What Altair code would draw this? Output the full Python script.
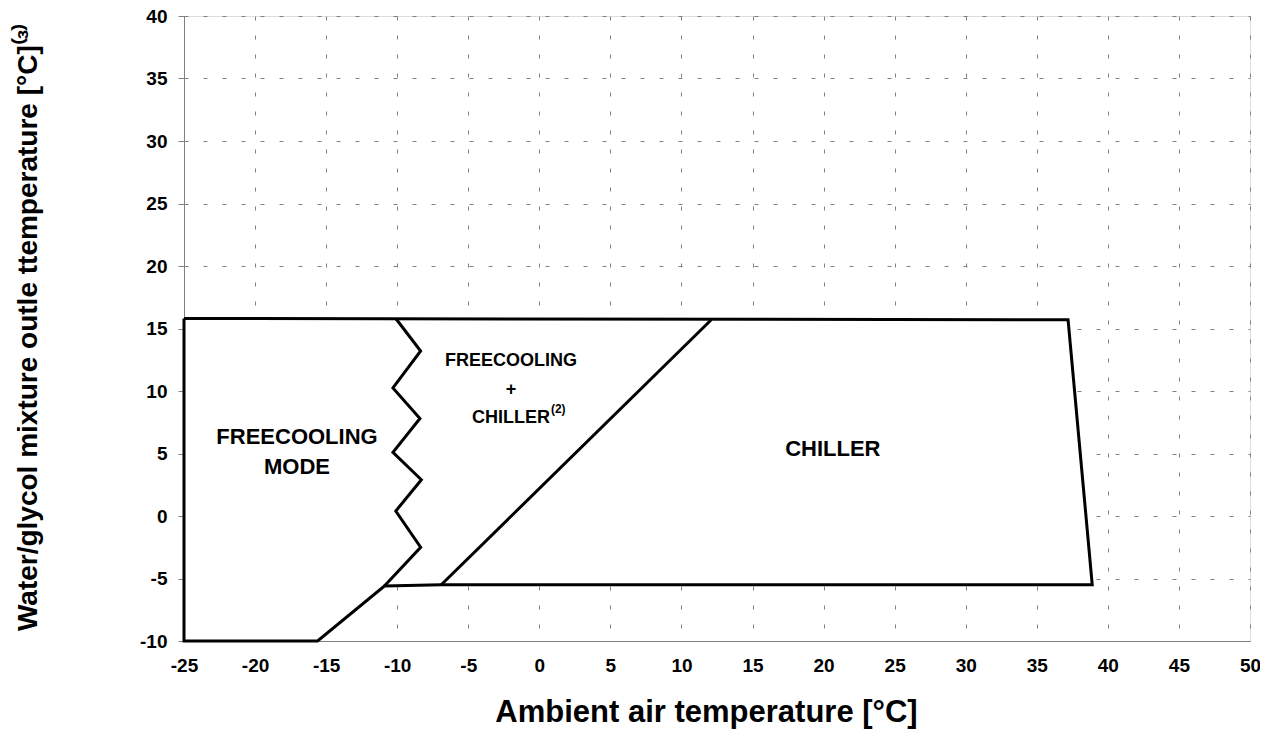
import altair as alt
import pandas as pd

# Outer envelope of the operating map
outer_x = [-25, -25, -15.6, -10.9, -6.9, 38.9, 37.2, -25]
outer_y = [15.8, -10, -10, -5.6, -5.5, -5.5, 15.7, 15.8]
# Zig-zag boundary between FREECOOLING and FREECOOLING + CHILLER
zig_x = [-10.1, -8.35, -10.3, -8.4, -10.3, -8.3, -10.1, -8.35, -10.9]
zig_y = [15.8, 13.2, 10.25, 7.8, 5.1, 2.9, 0.4, -2.5, -5.6]
# Diagonal boundary between FREECOOLING + CHILLER and CHILLER
diag_x = [-6.9, 12.1]
diag_y = [-5.5, 15.7]

label_text = ["FREECOOLING", "MODE", "FREECOOLING", "+", "CHILLER", "CHILLER"]
label_x = [-17.05, -17.05, -2.0, -2.0, -2.0, 20.65]
label_y = [6.32, 3.89, 12.41, 10.06, 7.87, 5.33]
label_size = [22, 22, 18, 18, 18, 22]

sup_text = ["(2)"]
sup_x = [-2.0]
sup_y = [7.87]

x_ticks = list(range(-25, 51, 5))
y_ticks = list(range(-10, 41, 5))

rows = []
for name, xs_, ys_ in [("outer", outer_x, outer_y), ("zig", zig_x, zig_y), ("diag", diag_x, diag_y)]:
    for i, (a, b) in enumerate(zip(xs_, ys_)):
        rows.append({"seg": name, "ord": i, "x": a, "y": b})
lines_df = pd.DataFrame(rows)
labels_df = pd.DataFrame({"t": label_text, "x": label_x, "y": label_y, "s": label_size})
sup_df = pd.DataFrame({"t": sup_text, "x": sup_x, "y": sup_y})

FONT = "Liberation Sans"

xs = alt.Scale(domain=[-25, 50], nice=False, zero=False)
ys = alt.Scale(domain=[-10, 40], nice=False, zero=False)

x_axis = alt.Axis(values=x_ticks, grid=True, gridDash=[4, 15], gridColor="#808080", gridWidth=1,
                  ticks=False, domainColor="#808080", labelFont=FONT, labelFontWeight="bold",
                  labelFontSize=19, labelColor="black", labelPadding=15, labelFlush=False,
                  labelExpr="'' + datum.value",
                  title="Ambient air temperature [°C]", titleFont=FONT, titleFontSize=31,
                  titleFontWeight="bold", titleColor="black",
                  titleX=522, titleY=80, titleAlign="center", titleBaseline="alphabetic")
y_axis = alt.Axis(values=y_ticks, grid=True, gridDash=[4, 15], gridColor="#808080", gridWidth=1,
                  ticks=True, tickColor="#808080", tickSize=6, domainColor="#808080",
                  labelFont=FONT, labelFontWeight="bold", labelFontSize=19, labelColor="black",
                  labelPadding=11, labelFlush=False, labelExpr="'' + datum.value",
                  title="Water/glycol mixture outle ttemperature [°C]\u207d\u00b3\u207e",
                  titleFont=FONT, titleFontSize=28, titleFontWeight="bold", titleColor="black",
                  titleX=-156, titleY=311, titleBaseline="middle", titleAlign="center", titleAngle=270)

outer_df = lines_df[lines_df.seg == "outer"]

fill = alt.Chart(outer_df).mark_line(fill="white", stroke="white", strokeWidth=0).encode(
    x=alt.X("x:Q", scale=xs, axis=x_axis),
    y=alt.Y("y:Q", scale=ys, axis=y_axis),
    order="ord:O",
)

lines = alt.Chart(lines_df).mark_line(color="black", strokeWidth=3, strokeJoin="miter").encode(
    x=alt.X("x:Q", scale=xs),
    y=alt.Y("y:Q", scale=ys),
    detail="seg:N",
    order="ord:O",
)

texts = alt.Chart(labels_df).mark_text(font=FONT, fontWeight="bold", color="black").encode(
    x=alt.X("x:Q", scale=xs),
    y=alt.Y("y:Q", scale=ys),
    text="t:N",
    size=alt.Size("s:Q", scale=None, legend=None),
)

sups = alt.Chart(sup_df).mark_text(font=FONT, fontWeight="bold", color="black", fontSize=12,
                                   align="left", dx=40, dy=-9).encode(
    x=alt.X("x:Q", scale=xs),
    y=alt.Y("y:Q", scale=ys),
    text="t:N",
)

chart = alt.layer(fill, lines, texts, sups).properties(
    width=1066, height=625,
    padding={"left": 176, "top": 8, "right": 10, "bottom": 100},
    autosize=alt.AutoSizeParams(type="none"),
).configure_view(stroke="#808080", strokeWidth=1).configure(background="white")

chart.save("out.html", embed_options={"renderer": "svg", "actions": False})
